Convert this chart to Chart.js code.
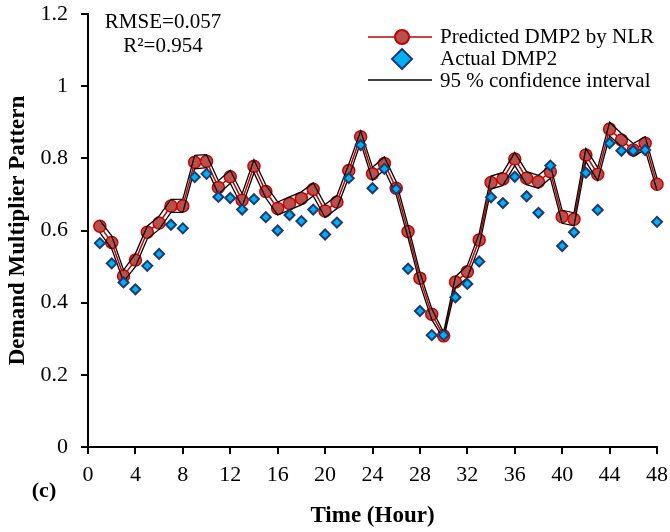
<!DOCTYPE html>
<html>
<head>
<meta charset="utf-8">
<script src="https://cdn.jsdelivr.net/npm/chart.js@4.4.1/dist/chart.umd.min.js"></script>
<style>
  html, body { margin: 0; padding: 0; background: #fff; }
  #wrap { width: 670px; height: 532px; position: relative; }
</style>
</head>
<body>
<div id="wrap"><canvas id="dmp"></canvas></div>
<script>
// hours 1..48
const hours = [1,2,3,4,5,6,7,8,9,10,11,12,13,14,15,16,17,18,19,20,21,22,23,24,
  25,26,27,28,29,30,31,32,33,34,35,36,37,38,39,40,41,42,43,44,45,46,47,48];

const predicted = [0.612,0.567,0.474,0.518,0.595,0.621,0.668,0.668,0.789,0.792,0.719,0.749,
  0.684,0.778,0.708,0.661,0.675,0.689,0.714,0.654,0.679,0.766,0.860,0.757,
  0.786,0.717,0.597,0.468,0.368,0.308,0.457,0.486,0.574,0.733,0.743,0.798,
  0.745,0.735,0.763,0.638,0.631,0.809,0.756,0.881,0.851,0.823,0.842,0.728];

const actual = [0.565,0.509,0.456,0.437,0.502,0.535,0.616,0.606,0.748,0.757,0.693,0.690,
  0.658,0.687,0.637,0.600,0.643,0.626,0.658,0.589,0.622,0.745,0.837,0.717,
  0.771,0.715,0.494,0.377,0.310,0.310,0.415,0.452,0.514,0.692,0.676,0.749,
  0.695,0.649,0.780,0.557,0.595,0.760,0.657,0.842,0.821,0.821,0.823,0.624];

const ciUpper = [0.628,0.585,0.490,0.536,0.612,0.640,0.686,0.687,0.808,0.810,0.738,0.767,
  0.702,0.796,0.726,0.679,0.693,0.707,0.732,0.672,0.697,0.784,0.876,0.775,
  0.804,0.735,0.614,0.484,0.383,0.318,0.472,0.503,0.592,0.751,0.761,0.816,
  0.763,0.753,0.781,0.656,0.649,0.827,0.774,0.900,0.869,0.841,0.860,0.745];

const ciLower = [0.594,0.549,0.458,0.500,0.577,0.603,0.650,0.650,0.771,0.774,0.701,0.731,
  0.666,0.760,0.690,0.643,0.657,0.671,0.696,0.636,0.661,0.748,0.844,0.739,
  0.768,0.699,0.580,0.452,0.353,0.300,0.442,0.469,0.556,0.715,0.725,0.780,
  0.727,0.717,0.745,0.620,0.613,0.791,0.738,0.862,0.833,0.805,0.824,0.711];

const xTicks = [0,4,8,12,16,20,24,28,32,36,40,44,48];
const yTicks = [0,0.2,0.4,0.6,0.8,1,1.2];

const serif = "'Liberation Serif', 'Times New Roman', serif";
const pts = arr => arr.map((v, i) => ({ x: hours[i], y: v }));

// legend + stats text drawn in the plot corner
const extras = {
  id: 'extras',
  afterDraw(chart) {
    const c = chart.ctx;
    c.save();
    c.fillStyle = '#000';
    c.font = '21px ' + serif;
    c.textBaseline = 'middle';
    c.textAlign = 'center';
    c.fillText('RMSE=0.057', 163, 22);
    c.fillText('R\u00B2=0.954', 163, 46);

    c.textAlign = 'left';
    c.fillText('Predicted DMP2 by NLR', 440, 37);
    c.fillText('Actual DMP2', 440, 59);
    c.fillText('95 % confidence interval', 440, 81);

    // red line + circle
    c.strokeStyle = '#C00000';
    c.lineWidth = 1.5;
    c.beginPath(); c.moveTo(368, 37); c.lineTo(432, 37); c.stroke();
    c.beginPath(); c.arc(402, 37, 7, 0, Math.PI * 2);
    c.fillStyle = '#B9504D'; c.fill();
    c.lineWidth = 2; c.stroke();
    // diamond
    c.beginPath();
    c.moveTo(402, 49); c.lineTo(412, 59); c.lineTo(402, 69); c.lineTo(392, 59); c.closePath();
    c.fillStyle = '#00B0F0'; c.fill();
    c.strokeStyle = '#1F3A70'; c.lineWidth = 2; c.stroke();
    // black line
    c.strokeStyle = '#000'; c.lineWidth = 1.3;
    c.beginPath(); c.moveTo(368, 80); c.lineTo(432, 80); c.stroke();

    c.fillStyle = '#000';
    c.font = 'bold 22px ' + serif;
    c.textAlign = 'center';
    c.fillText('(c)', 44, 491);
    c.restore();
  }
};

const ctx = document.getElementById('dmp');
new Chart(ctx, {
  type: 'line',
  data: {
    datasets: [
      {
        label: 'Actual DMP2',
        data: pts(actual),
        showLine: false,
        pointStyle: 'rectRot',
        pointRadius: 5,
        pointBackgroundColor: '#00B0F0',
        pointBorderColor: '#1F3A70',
        pointBorderWidth: 2,
        order: 0
      },
      {
        label: '95 % confidence interval',
        data: pts(ciUpper),
        borderColor: '#000',
        borderWidth: 1.3,
        pointRadius: 0,
        order: 1
      },
      {
        label: 'lower',
        data: pts(ciLower),
        borderColor: '#000',
        borderWidth: 1.3,
        pointRadius: 0,
        order: 1
      },
      {
        label: 'Predicted DMP2 by NLR',
        data: pts(predicted),
        borderColor: '#C00000',
        borderWidth: 1.5,
        pointRadius: 6,
        pointBackgroundColor: '#B9504D',
        pointBorderColor: '#CC0000',
        pointBorderWidth: 1.5,
        order: 2
      }
    ]
  },
  options: {
    responsive: true,
    maintainAspectRatio: false,
    animation: false,
    clip: false,
    layout: { padding: { top: 14, right: 13, left: 0, bottom: 0 } },
    plugins: {
      legend: { display: false },
      tooltip: { enabled: false }
    },
    scales: {
      x: {
        type: 'linear',
        min: 0,
        max: 48,
        afterBuildTicks: s => { s.ticks = xTicks.map(v => ({ value: v })); },
        afterFit: s => { s.height = 85; s.paddingLeft = 0; s.paddingRight = 0; },
        ticks: { color: '#000', font: { family: serif, size: 22 }, padding: 8, maxRotation: 0 },
        grid: { drawOnChartArea: false, drawTicks: true, tickLength: 7, color: '#000', lineWidth: 2 },
        border: { color: '#000', width: 2 },
        title: {
          display: true,
          text: 'Time (Hour)',
          color: '#000',
          font: { family: serif, size: 23, weight: 'bold' },
          padding: { top: 0, bottom: 2 }
        }
      },
      y: {
        min: 0,
        max: 1.2,
        afterBuildTicks: s => { s.ticks = yTicks.map(v => ({ value: v })); },
        afterFit: s => { s.width = 88; s.paddingTop = 0; s.paddingBottom = 0; },
        ticks: { color: '#000', font: { family: serif, size: 22 }, padding: 13, callback: v => String(v) },
        grid: { drawOnChartArea: false, drawTicks: true, tickLength: 7, color: '#000', lineWidth: 2 },
        border: { color: '#000', width: 2 },
        title: {
          display: true,
          text: 'Demand Multiplier Pattern',
          color: '#000',
          font: { family: serif, size: 23, weight: 'bold' },
          padding: { top: 4, bottom: 0 }
        }
      }
    }
  },
  plugins: [extras]
});
</script>
</body>
</html>
